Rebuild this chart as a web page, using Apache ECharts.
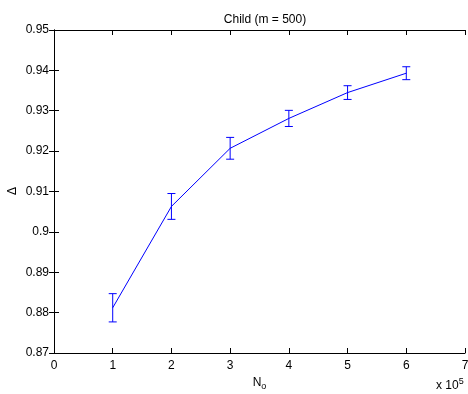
<!DOCTYPE html>
<html>
<head>
<meta charset="utf-8">
<script src="https://cdn.jsdelivr.net/npm/echarts@6/dist/echarts.min.js"></script>
<style>html,body{margin:0;padding:0;background:#fff;}#c{width:468px;height:394px;}</style>
</head>
<body>
<div id="c"></div>
<script>
var xValues = [1, 2, 3, 4, 5, 6];
var deltaValues = [0.8812, 0.9063, 0.9207, 0.9281, 0.9345, 0.9393];
var errValues = [0.0035, 0.0032, 0.0027, 0.0020, 0.0017, 0.0016];
var xTicks = [0, 1, 2, 3, 4, 5, 6, 7];
var yTicks = [0.87, 0.88, 0.89, 0.9, 0.91, 0.92, 0.93, 0.94, 0.95];

var font = 'Liberation Sans, Arial, Helvetica, sans-serif';
var fs = 12;
var lineData = xValues.map(function (x, i) { return [x, deltaValues[i]]; });
var errData = xValues.map(function (x, i) { return [x, deltaValues[i] - errValues[i], deltaValues[i] + errValues[i]]; });

var chart = echarts.init(document.getElementById('c'), null, {renderer: 'canvas'});
var axisLine = {show: true, lineStyle: {color: '#000', width: 1}};
var tick = {show: true, inside: true, length: 5, lineStyle: {color: '#000', width: 1}};
var lbl = {color: '#000', fontFamily: font, fontSize: fs};
chart.setOption({
  animation: false,
  backgroundColor: '#fff',
  title: {
    text: 'Child (m = 500)', left: 260, top: 9, textAlign: 'center',
    textStyle: {fontFamily: font, fontSize: fs, fontWeight: 'normal', color: '#000'}
  },
  grid: {left: 54, right: 3, top: 30, bottom: 41, containLabel: false, outerBoundsMode: 'none'},
  xAxis: [{
    type: 'value', min: 0, max: 7, interval: 1, position: 'bottom',
    axisLine: axisLine, axisTick: tick, splitLine: {show: false},
    axisLabel: Object.assign({margin: 7, formatter: function (v) { return xTicks.indexOf(v) >= 0 ? String(v) : ''; }}, lbl),
    name: '{n|N}{s|o}', nameLocation: 'middle', nameGap: 22,
    nameTextStyle: {rich: {n: {fontFamily: font, fontSize: fs, color: '#000'}, s: {fontFamily: font, fontSize: 9, color: '#000', padding: [7, 0, 0, 0]}}}
  }, {
    type: 'value', min: 0, max: 7, interval: 1, position: 'top',
    axisLine: axisLine, axisTick: tick, axisLabel: {show: false}, splitLine: {show: false}
  }],
  yAxis: [{
    type: 'value', min: 0.87, max: 0.95, interval: 0.01, position: 'left',
    axisLine: axisLine, axisTick: tick, splitLine: {show: false},
    axisLabel: Object.assign({margin: 5, formatter: function (v) { return String(Math.round(v * 100) / 100); }}, lbl)
  }, {
    type: 'value', min: 0.87, max: 0.95, interval: 0.01, position: 'right',
    axisLine: axisLine, axisTick: tick, axisLabel: {show: false}, splitLine: {show: false}
  }],
  graphic: [{
    type: 'text', x: 13, y: 191, rotation: Math.PI / 2,
    style: {text: 'Δ', fontFamily: font, fontSize: fs, fill: '#000', align: 'center', verticalAlign: 'middle'}
  }, {
    type: 'text', left: 436, top: 377,
    style: {
      text: '{a|x 10}{b|5}',
      rich: {a: {fontFamily: font, fontSize: fs, fill: '#000'}, b: {fontFamily: font, fontSize: 9, fill: '#000', padding: [0, 0, 8, 0]}}
    }
  }],
  series: [{
    type: 'line', data: lineData, symbol: 'none', xAxisIndex: 0, yAxisIndex: 0,
    lineStyle: {color: '#0000ff', width: 1}, z: 3
  }, {
    type: 'custom', data: errData, xAxisIndex: 0, yAxisIndex: 0, z: 4,
    renderItem: function (params, api) {
      var x = api.value(0);
      var lo = api.coord([x, api.value(1)]);
      var hi = api.coord([x, api.value(2)]);
      var w = 4;
      var st = {stroke: '#0000ff', lineWidth: 1, fill: null};
      return {type: 'group', children: [
        {type: 'line', shape: {x1: lo[0], y1: lo[1], x2: hi[0], y2: hi[1]}, style: st},
        {type: 'line', shape: {x1: lo[0] - w, y1: lo[1], x2: lo[0] + w, y2: lo[1]}, style: st},
        {type: 'line', shape: {x1: hi[0] - w, y1: hi[1], x2: hi[0] + w, y2: hi[1]}, style: st}
      ]};
    }
  }]
});
</script>
</body>
</html>
